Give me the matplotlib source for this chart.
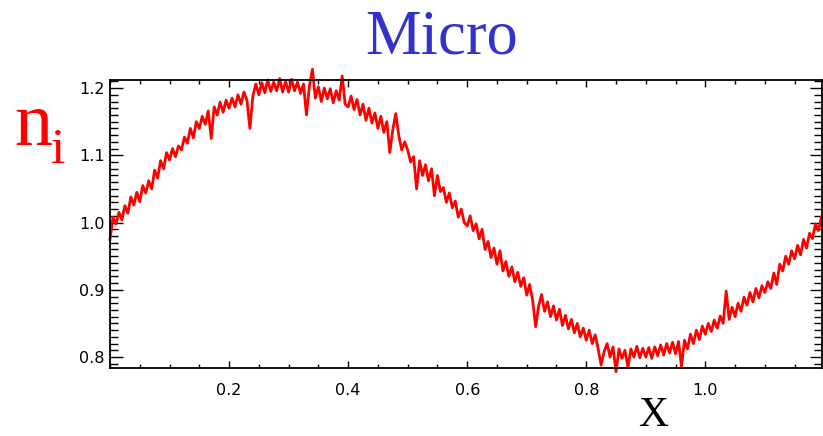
import numpy as np
import matplotlib
matplotlib.use("Agg")
import matplotlib.pyplot as plt
from matplotlib.ticker import MultipleLocator

# density profile n_i sampled every 0.005 in X (rows of 20 samples = 0.1 in X)
n_i = [
    0.975, 1.008, 0.998, 1.015, 1.004, 1.025, 1.014, 1.038, 1.026, 1.045, 1.031, 1.055, 1.044, 1.062, 1.050, 1.078, 1.066, 1.092, 1.080, 1.104,
    1.093, 1.110, 1.098, 1.114, 1.108, 1.127, 1.118, 1.140, 1.126, 1.150, 1.140, 1.158, 1.146, 1.166, 1.125, 1.172, 1.160, 1.179, 1.164, 1.182,
    1.170, 1.185, 1.172, 1.190, 1.176, 1.194, 1.182, 1.140, 1.188, 1.206, 1.190, 1.208, 1.193, 1.212, 1.195, 1.209, 1.196, 1.214, 1.194, 1.210,
    1.194, 1.213, 1.196, 1.209, 1.192, 1.206, 1.160, 1.203, 1.228, 1.185, 1.202, 1.180, 1.200, 1.184, 1.199, 1.178, 1.196, 1.182, 1.218, 1.176,
    1.172, 1.188, 1.168, 1.183, 1.160, 1.176, 1.152, 1.170, 1.148, 1.163, 1.140, 1.158, 1.134, 1.150, 1.104, 1.138, 1.162, 1.130, 1.108, 1.120,
    1.108, 1.090, 1.098, 1.050, 1.092, 1.070, 1.086, 1.062, 1.080, 1.040, 1.070, 1.046, 1.052, 1.030, 1.044, 1.022, 1.032, 1.008, 1.020, 1.000,
    0.995, 1.010, 0.988, 0.998, 0.976, 0.990, 0.960, 0.972, 0.948, 0.962, 0.938, 0.958, 0.928, 0.942, 0.920, 0.934, 0.912, 0.926, 0.905, 0.918,
    0.892, 0.908, 0.884, 0.845, 0.876, 0.893, 0.868, 0.882, 0.860, 0.876, 0.855, 0.871, 0.847, 0.862, 0.842, 0.856, 0.836, 0.850, 0.830, 0.843,
    0.825, 0.840, 0.820, 0.833, 0.812, 0.788, 0.808, 0.820, 0.800, 0.815, 0.778, 0.812, 0.798, 0.810, 0.785, 0.812, 0.800, 0.816, 0.799, 0.813,
    0.800, 0.814, 0.798, 0.815, 0.802, 0.818, 0.803, 0.820, 0.806, 0.822, 0.805, 0.823, 0.786, 0.825, 0.812, 0.834, 0.820, 0.840, 0.826, 0.846,
    0.834, 0.850, 0.838, 0.855, 0.843, 0.861, 0.850, 0.898, 0.856, 0.874, 0.860, 0.880, 0.868, 0.889, 0.877, 0.896, 0.882, 0.902, 0.888, 0.906,
    0.896, 0.912, 0.902, 0.925, 0.908, 0.938, 0.928, 0.950, 0.938, 0.958, 0.946, 0.966, 0.952, 0.975, 0.962, 0.984, 0.976, 0.998, 0.988, 1.008,
]
x = np.arange(len(n_i)) * 0.005

x_ticks = [0.2, 0.4, 0.6, 0.8, 1.0]
x_labels = ["0.2", "0.4", "0.6", "0.8", "1.0"]
y_ticks = [0.8, 0.9, 1.0, 1.1, 1.2]
y_labels = ["0.8", "0.9", "1.0", "1.1", "1.2"]

W, H = 823, 436
fig = plt.figure(figsize=(W / 100, H / 100), dpi=100)
ax = fig.add_axes([110 / W, 1 - 368 / H, 712 / W, 288 / H])

ax.plot(x, n_i, color="#ff0000", lw=2.0, clip_on=False)

ax.set_xlim(0, 1.196)
ax.set_ylim(0.7837, 1.212)
ax.set_xticks(x_ticks)
ax.set_xticklabels(x_labels)
ax.set_yticks(y_ticks)
ax.set_yticklabels(y_labels)
ax.xaxis.set_minor_locator(MultipleLocator(0.05))
ax.yaxis.set_minor_locator(MultipleLocator(0.01))

ax.tick_params(axis="both", which="both", direction="in", top=True, right=True,
               color="black", width=1.0, labelsize=11.5)
ax.tick_params(axis="x", which="major", length=5, pad=11)
ax.tick_params(axis="x", which="minor", length=3)
ax.tick_params(axis="y", which="major", length=9, pad=4)
ax.tick_params(axis="y", which="minor", length=6)
for s in ax.spines.values():
    s.set_linewidth(1.3)

serif = "Liberation Serif"
fig.text(442 / W, 1 - 53 / H, "Micro", family=serif, size=45, color="#3333cc",
         ha="center", va="baseline")
fig.text(14 / W, 1 - 145 / H, "n", family=serif, size=55, color="#ff0000",
         ha="left", va="baseline")
fig.text(51 / W, 1 - 163 / H, "i", family=serif, size=37, color="#ff0000",
         ha="left", va="baseline")
fig.text(653 / W, 0.002, "X", family=serif, size=30, color="black",
         ha="center", va="bottom")

fig.savefig("out.png", dpi=100)
